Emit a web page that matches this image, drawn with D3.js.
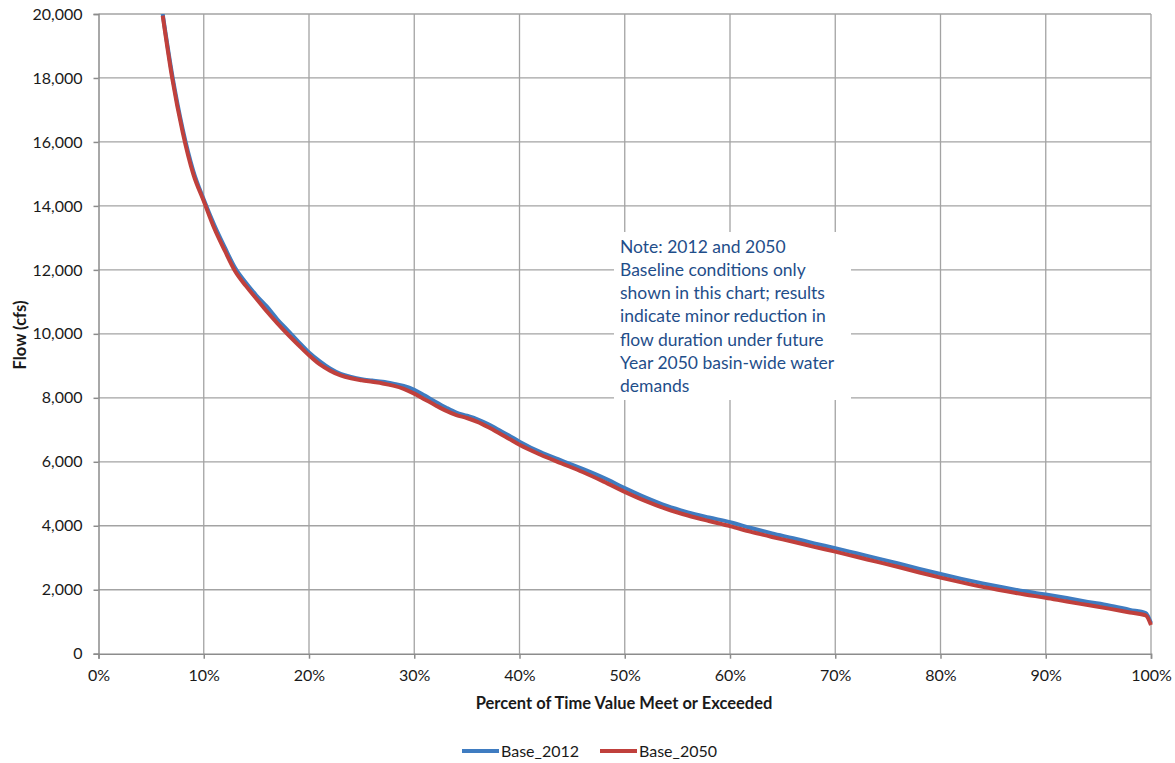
<!DOCTYPE html>
<html><head><meta charset="utf-8">
<script src="https://cdn.jsdelivr.net/npm/d3@7"></script>
<style>
body{margin:0;background:#fff;}
text{font-family:Lato,"Open Sans",sans-serif;}
</style></head>
<body>
<svg id="c" width="1175" height="763"></svg>
<script>
const percent = [6.1,7,8,9,10,11,12,13,14,15,16,17,18,19,20,21,22,23,24,25,26,27,28,29,30,31,32,33,34,35,36,37,38,39,40,42,44,46,48,50,52,54,56,58,60,62,64,66,68,70,72,74,76,78,80,82,84,86,88,90,92,94,96,98,99.5,100];
const base2012 = [20000,18100,16400,15100,14200,13400,12700,12050,11600,11200,10850,10450,10100,9750,9420,9150,8920,8750,8650,8580,8540,8500,8440,8370,8250,8070,7880,7700,7540,7440,7330,7180,7000,6820,6630,6300,6040,5780,5500,5180,4880,4620,4420,4260,4110,3930,3760,3610,3450,3300,3140,2980,2820,2650,2490,2340,2200,2070,1950,1850,1740,1620,1510,1370,1270,950];
const base2050 = [19950,18000,16300,15000,14150,13300,12600,11950,11500,11100,10700,10330,9980,9650,9330,9050,8850,8700,8610,8550,8500,8450,8380,8280,8130,7950,7770,7600,7460,7370,7250,7090,6910,6720,6530,6220,5950,5680,5380,5060,4770,4520,4320,4150,3990,3810,3650,3500,3340,3190,3030,2870,2710,2540,2380,2230,2090,1970,1850,1750,1630,1520,1410,1290,1200,900];
const xTicks = [0,10,20,30,40,50,60,70,80,90,100];
const yTicks = [0,2000,4000,6000,8000,10000,12000,14000,16000,18000,20000];
const seriesNames = ["Base_2012","Base_2050"];
const seriesColors = ["#3f7cc1","#c0403c"];
const noteLines = ["Note: 2012 and 2050","Baseline conditions only","shown in this chart; results","indicate minor reduction in","flow duration under future","Year 2050 basin-wide water","demands"];

const svg = d3.select("#c");
const L=98.5, R=1151, T=14, B=653.7;
const x = d3.scaleLinear().domain([0,100]).range([L,R]);
const y = d3.scaleLinear().domain([0,20000]).range([B,T]);

// grid
const g = svg.append("g");
g.selectAll(".hg").data(yTicks.filter(d=>d>0)).enter().append("line")
 .attr("x1",L).attr("x2",R).attr("y1",d=>y(d)).attr("y2",d=>y(d))
 .attr("stroke","#a3a3a3").attr("stroke-width",1.3);
g.selectAll(".vg").data(xTicks.filter(d=>d>0)).enter().append("line")
 .attr("y1",T).attr("y2",B).attr("x1",d=>x(d)).attr("x2",d=>x(d))
 .attr("stroke","#a3a3a3").attr("stroke-width",1.3);

// axes
const xa = svg.append("g").attr("transform",`translate(0,${B})`)
 .call(d3.axisBottom(x).tickValues(xTicks).tickFormat(d=>d+"%").tickSize(5).tickPadding(11));
const ya = svg.append("g").attr("transform",`translate(${L},0)`)
 .call(d3.axisLeft(y).tickValues(yTicks).tickFormat(d3.format(",")).tickSize(5).tickPadding(11));
[xa,ya].forEach(a=>{
  a.selectAll("path,line").attr("stroke","#8c8c8c").attr("stroke-width",1.5);
  a.selectAll("text").attr("font-size",16).attr("fill","#1a1a1a").style("font-family","Lato");
});

// note box
const nb = svg.append("g");
nb.append("rect").attr("x",614).attr("y",232).attr("width",237).attr("height",168).attr("fill","#fff");
nb.selectAll("text").data(noteLines).enter().append("text")
 .attr("x",620).attr("y",(d,i)=>252.5+i*23.3).attr("font-size",17.5).attr("fill","#1f4e8a").text(d=>d);

// lines
svg.append("clipPath").attr("id","pc").append("rect").attr("x",L).attr("y",T).attr("width",R-L+5).attr("height",B-T);
const line = d3.line().x(d=>x(d[0])).y(d=>y(d[1])).curve(d3.curveMonotoneX);
[base2012,base2050].forEach((s,i)=>{
  svg.append("path").datum(percent.map((p,j)=>[p,s[j]]))
   .attr("d",line).attr("fill","none").attr("stroke",seriesColors[i])
   .attr("stroke-width",4).attr("stroke-linejoin","round").attr("clip-path","url(#pc)");
});

// titles
svg.append("text").attr("x",624).attr("y",709).attr("text-anchor","middle")
 .attr("font-size",16.5).attr("font-weight","bold").attr("fill","#1a1a1a").text("Percent of Time Value Meet or Exceeded");
svg.append("text").attr("transform","translate(26,335) rotate(-90)").attr("text-anchor","middle")
 .attr("font-size",16.5).attr("font-weight","bold").attr("fill","#1a1a1a").text("Flow (cfs)");

// legend
const lg = svg.append("g");
const lx=[462,600];
seriesNames.forEach((n,i)=>{
  lg.append("line").attr("x1",lx[i]).attr("x2",lx[i]+37).attr("y1",751).attr("y2",751)
   .attr("stroke",seriesColors[i]).attr("stroke-width",4);
  lg.append("text").attr("x",lx[i]+39).attr("y",757).attr("font-size",16).attr("fill","#1a1a1a").text(n);
});
</script>
</body></html>
